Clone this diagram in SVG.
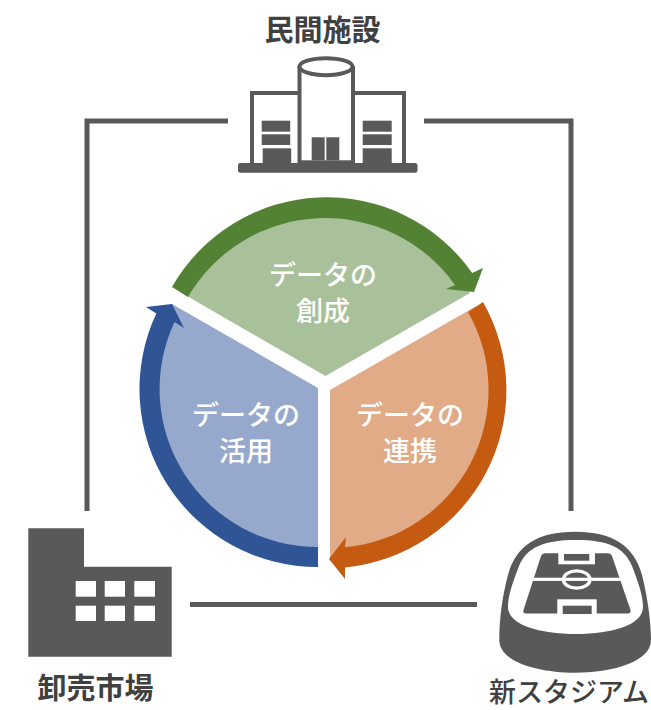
<svg xmlns="http://www.w3.org/2000/svg" width="651" height="710" viewBox="0 0 651 710">
<style>
.lbl{font-family:"Noto Sans CJK JP","Noto Sans",sans-serif;font-weight:700;fill:#404040;text-anchor:middle}
.in{font-family:"Noto Sans CJK JP","Noto Sans",sans-serif;font-weight:500;fill:#fff;text-anchor:middle;font-size:27px}
.ic{fill:#595959}
.line{fill:none;stroke:#595959;stroke-width:5}
</style>
<rect width="651" height="710" fill="#fff"/>
<g id="connectors">
<path class="line" d="M228 121H87V511"/>
<path class="line" d="M424 121H571V511"/>
<path class="line" d="M190 604.500H477"/>
</g>
<g id="node-create">
<path fill="#a9c19a" d="M325.500 376L180 292A168 168 0 0 1 463 283L470 293Z"/>
<path fill="#548235" d="M172 287A178 178 0 0 1 472.200 272.900L483 268L474 292L446 289L455 285A159 159 0 0 0 188 297Z"/>
<text class="in"><tspan x="323" y="285">データの</tspan><tspan x="323" y="321">創成</tspan></text>
</g>
<g id="node-link">
<path fill="#e2ab88" d="M330 390L475.500 306.500A168 168 0 0 1 345 557L330 558Z"/>
<path fill="#c55a11" d="M483 302A178 178 0 0 1 345 567.400L345 579L329 559L346 537L345 547.300A158 158 0 0 0 468 312Z"/>
<text class="in"><tspan x="410" y="424.500">データの</tspan><tspan x="410" y="460.500">連携</tspan></text>
</g>
<g id="node-use">
<path fill="#96a9cc" d="M318 388L172 304L165 318A168 168 0 0 0 318 556Z"/>
<path fill="#2f5597" d="M318 567A178 178 0 0 1 156.300 313.500L146 307L172 304L184 328L174.500 322A158 158 0 0 0 318 547Z"/>
<text class="in"><tspan x="246" y="424.500">データの</tspan><tspan x="246" y="460.500">活用</tspan></text>
</g>
<g id="node-private">
<text class="lbl" x="322.500" y="41" font-size="29">民間施設</text>
<path class="ic" d="M240 163H415A2.500 2.500 0 0 1 417.500 165.500V170A2.500 2.500 0 0 1 415 172.700H240A2.500 2.500 0 0 1 238 170V165.500A2.500 2.500 0 0 1 240 163Z"/>
<path fill="none" stroke="#595959" stroke-width="4" d="M299.500 93H252V164M353 93H404V164M299.500 66V164M353 66V164"/>
<ellipse cx="326" cy="66.700" rx="26.500" ry="8.500" fill="#fff" stroke="#595959" stroke-width="4"/>
<rect class="ic" x="261.700" y="120.700" width="28.500" height="11"/>
<rect class="ic" x="261.700" y="134.300" width="28.500" height="10.700"/>
<rect class="ic" x="262.700" y="148.300" width="28.500" height="15"/>
<rect class="ic" x="362.700" y="120.700" width="29" height="11"/>
<rect class="ic" x="362.700" y="134.300" width="29" height="10.700"/>
<rect class="ic" x="362.700" y="148.300" width="29" height="15"/>
<rect class="ic" x="299" y="160.300" width="54" height="3"/>
<rect class="ic" x="311.700" y="137.300" width="13" height="23"/>
<rect class="ic" x="326.300" y="137.300" width="13" height="23"/>
</g>
<g id="node-market">
<path class="ic" d="M28.300 528.300H84V566.700H171.700V656.700H28.300Z"/>
<g fill="#fff">
<rect x="75.700" y="581" width="20.300" height="15.700"/><rect x="104.700" y="581" width="20.300" height="15.700"/><rect x="134.300" y="581" width="20.700" height="15.700"/>
<rect x="75.700" y="605.700" width="20.300" height="15.300"/><rect x="104.700" y="605.700" width="20.300" height="15.300"/><rect x="134.300" y="605.700" width="20.700" height="15.300"/>
</g>
<text class="lbl" x="95.500" y="699" font-size="29">卸売市場</text>
</g>
<g id="node-stadium">
<path class="ic" d="M575 531.700C612 531.700 634 545 642 575C647 595 651 620 651 640C651 662 612 672.700 575 672.700C538 672.700 499.300 662 499.300 640C499.300 620 502 597 508 575C516 545 538 531.700 575 531.700Z"/>
<path fill="#fff" d="M576 540C608 540 624 547 632 566C638 582 643 595 643 607C643 625 612 634 576 634C540 634 508 625 508 607C508 595 513 582 519 566C527 547 544 540 576 540Z"/>
<path class="ic" d="M545 553.300H608Q611 553.300 612 556L630.500 610Q631 613.500 628 613.500H526Q522.500 613.500 523.500 610L541 556Q542 553.300 545 553.300Z"/>
<g fill="#fff">
<rect x="515" y="577.700" width="120" height="3.200"/>
<rect x="558.300" y="552" width="36.700" height="12.300"/>
<rect x="557.300" y="599.300" width="39.400" height="15.700"/>
</g>
<rect class="ic" x="564" y="554" width="25.300" height="6.700"/>
<rect class="ic" x="562.700" y="605.700" width="29" height="8.300"/>
<ellipse cx="576.700" cy="579.500" rx="13.300" ry="8.700" fill="none" stroke="#fff" stroke-width="3.300"/>
<text class="lbl" style="font-weight:500" x="569" y="702" font-size="27">新スタジアム</text>
</g>
</svg>
